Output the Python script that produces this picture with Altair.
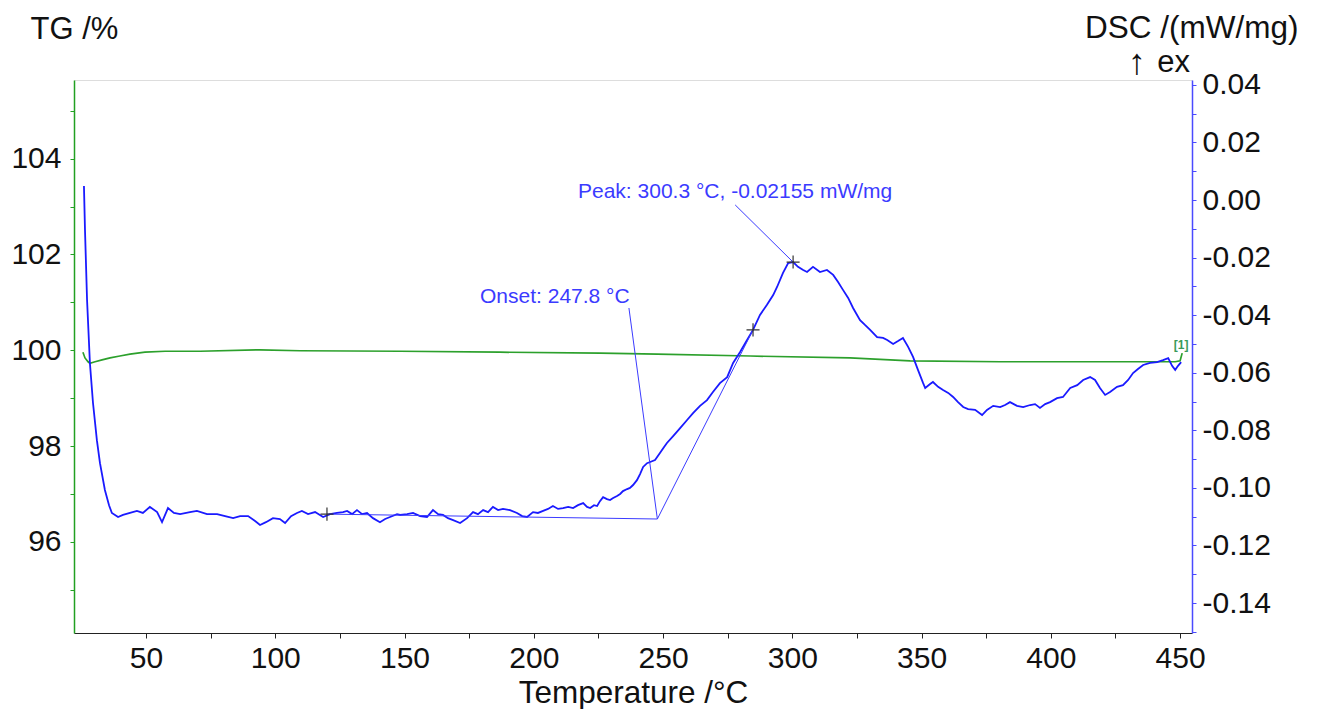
import altair as alt
import pandas as pd

# ---------------- data ----------------
dsc_temp = [26.0, 26.4, 27.2, 28.3, 29.5, 31.0, 32.2, 34.1, 35.7, 36.8,
            39.2, 41.1, 43.8, 46.5, 48.8, 51.5, 54.3, 56.2, 58.5, 60.8,
            63.2, 67.0, 69.7, 73.6, 77.5, 80.6, 83.7, 86.4, 89.5, 92.2,
            94.1, 96.4, 99.1, 101.8, 103.8, 106.1, 108.4, 110.3, 112.7, 115.4,
            118.5, 121.2, 123.9, 126.2, 127.8, 129.7, 131.6, 133.6, 135.5, 137.8,
            140.5, 142.5, 144.4, 147.1, 148.3, 151.0, 153.3, 156.0, 158.7, 161.0,
            163.0, 164.9, 166.8, 168.8, 171.5, 174.2, 176.5, 178.4, 180.4, 182.3,
            184.2, 186.2, 188.1, 190.8, 193.5, 195.5, 197.4, 199.7, 201.6, 203.6,
            205.5, 207.4, 209.4, 211.3, 213.3, 215.2, 217.1, 219.1, 220.6, 221.8,
            223.3, 224.5, 225.6, 226.8, 228.3, 229.5, 230.7, 232.2, 233.4, 234.5,
            236.1, 237.2, 238.4, 239.9, 241.1, 242.3, 243.8, 245.0, 246.9, 248.8,
            250.4, 251.5, 253.9, 256.6, 259.3, 261.6, 264.3, 267.0, 269.3, 272.0,
            274.8, 277.1, 279.8, 282.5, 284.8, 287.5, 290.2, 292.6, 294.1, 296.4,
            298.4, 300.3, 302.2, 304.2, 305.7, 308.0, 310.7, 313.4, 315.8, 317.7,
            319.6, 321.6, 323.5, 326.2, 328.1, 330.1, 332.8, 335.1, 336.7, 339.0,
            340.9, 342.8, 344.8, 346.7, 348.6, 350.6, 351.4, 353.3, 354.4, 356.4,
            358.3, 360.3, 362.2, 364.1, 366.1, 368.0, 370.7, 373.4, 375.3, 377.7,
            380.4, 382.3, 384.2, 386.9, 389.3, 392.0, 393.9, 395.8, 397.8, 399.7,
            402.4, 404.7, 407.5, 410.2, 412.5, 415.2, 417.1, 419.0, 421.0, 422.9,
            425.6, 427.9, 429.9, 431.8, 433.7, 435.7, 438.4, 441.1, 443.4, 445.4,
            446.9, 448.1, 449.2, 450.4]
dsc_value = [0.0049, -0.0104, -0.0347, -0.0566, -0.0705, -0.0834, -0.0914, -0.1007, -0.1060, -0.1087,
             -0.1101, -0.1094, -0.1087, -0.1080, -0.1087, -0.1066, -0.1084, -0.1119, -0.1070, -0.1087,
             -0.1091, -0.1084, -0.1080, -0.1091, -0.1091, -0.1098, -0.1105, -0.1098, -0.1098, -0.1115,
             -0.1129, -0.1119, -0.1105, -0.1108, -0.1122, -0.1098, -0.1087, -0.1080, -0.1091, -0.1084,
             -0.1101, -0.1091, -0.1087, -0.1084, -0.1080, -0.1091, -0.1077, -0.1091, -0.1087, -0.1105,
             -0.1119, -0.1108, -0.1101, -0.1091, -0.1094, -0.1091, -0.1087, -0.1098, -0.1101, -0.1077,
             -0.1091, -0.1094, -0.1105, -0.1112, -0.1122, -0.1105, -0.1084, -0.1091, -0.1077, -0.1084,
             -0.1066, -0.1077, -0.1073, -0.1077, -0.1087, -0.1098, -0.1101, -0.1084, -0.1087, -0.1080,
             -0.1073, -0.1063, -0.1073, -0.1070, -0.1066, -0.1070, -0.1060, -0.1053, -0.1066, -0.1070,
             -0.1060, -0.1063, -0.1046, -0.1032, -0.1039, -0.1042, -0.1035, -0.1028, -0.1021, -0.1011,
             -0.1004, -0.1000, -0.0990, -0.0973, -0.0952, -0.0927, -0.0914, -0.0910, -0.0903, -0.0879,
             -0.0858, -0.0844, -0.0820, -0.0792, -0.0764, -0.0740, -0.0715, -0.0695, -0.0667, -0.0636,
             -0.0615, -0.0566, -0.0528, -0.0486, -0.0451, -0.0399, -0.0364, -0.0330, -0.0302, -0.0253,
             -0.0219, -0.02155, -0.0232, -0.0243, -0.0250, -0.0232, -0.0250, -0.0243, -0.0260, -0.0285,
             -0.0312, -0.0340, -0.0375, -0.0417, -0.0434, -0.0451, -0.0476, -0.0479, -0.0486, -0.0500,
             -0.0490, -0.0479, -0.0510, -0.0545, -0.0590, -0.0636, -0.0653, -0.0639, -0.0632, -0.0649,
             -0.0660, -0.0670, -0.0684, -0.0702, -0.0719, -0.0726, -0.0729, -0.0747, -0.0729, -0.0715,
             -0.0719, -0.0712, -0.0702, -0.0715, -0.0719, -0.0712, -0.0709, -0.0722, -0.0709, -0.0702,
             -0.0688, -0.0684, -0.0653, -0.0643, -0.0625, -0.0615, -0.0625, -0.0653, -0.0677, -0.0667,
             -0.0649, -0.0643, -0.0625, -0.0601, -0.0587, -0.0573, -0.0566, -0.0563, -0.0556, -0.0549,
             -0.0576, -0.0590, -0.0576, -0.0563]

tg_temp = [25.6, 26.4, 27.6, 28.3, 30.3, 33.0, 36.1, 39.9, 43.8, 49.6, 57.4, 70.9,
           94.1, 109.6, 148.3, 186.9, 225.6, 247.7, 283.7, 322.3, 345.6, 380.4,
           419.0, 448.1, 450.0, 450.8]
tg_value = [99.96, 99.84, 99.76, 99.73, 99.76, 99.80, 99.84, 99.88, 99.92, 99.96, 99.98, 99.98,
            100.01, 99.99, 99.98, 99.96, 99.94, 99.92, 99.88, 99.84, 99.78, 99.76,
            99.76, 99.76, 99.78, 99.94]

# construction lines of the onset / peak evaluation (DSC axis)
seg_t1 = [120.0, 247.8, 236.8, 277.9]
seg_v1 = [-0.1091, -0.1108, -0.0375, -0.0017]
seg_t2 = [247.8, 284.8, 247.8, 300.3]
seg_v2 = [-0.1108, -0.0451, -0.1108, -0.02155]

mark_t = [120.0, 284.8, 300.3]
mark_v = [-0.1091, -0.0451, -0.02155]

label_text = ["Peak: 300.3 °C, -0.02155 mW/mg", "Onset: 247.8 °C"]
label_t = [217.1, 179.2]
label_v = [0.0028, -0.0337]

tg_tag_text = ["[1]"]
tg_tag_t = [450.4]
tg_tag_v = [100.11]

x_ticks = [50, 75, 100, 125, 150, 175, 200, 225, 250, 275, 300, 325, 350, 375, 400, 425, 450]
tg_ticks = [95, 96, 97, 98, 99, 100, 101, 102, 103, 104, 105]
dsc_ticks = [-0.15, -0.14, -0.13, -0.12, -0.11, -0.10, -0.09, -0.08, -0.07, -0.06, -0.05,
             -0.04, -0.03, -0.02, -0.01, 0.0, 0.01, 0.02, 0.03, 0.04]

# ---------------- chart ----------------
FONT = "Liberation Sans"
GREEN = "#2ca02c"
AXGREEN = "#22a022"
BLUE = "#1a1aff"
AXBLUE = "#4a4aff"
ANNO = "#3b3bff"

dsc_df = pd.DataFrame({"T": dsc_temp, "DSC": dsc_value})
tg_df = pd.DataFrame({"T": tg_temp, "TG": tg_value})
seg_df = pd.DataFrame({"t1": seg_t1, "v1": seg_v1, "t2": seg_t2, "v2": seg_v2})
mark_df = pd.DataFrame({"T": mark_t, "DSC": mark_v})
label_df = pd.DataFrame({"T": label_t, "DSC": label_v, "txt": label_text})
tag_df = pd.DataFrame({"T": tg_tag_t, "TG": tg_tag_v, "txt": tg_tag_text})

x_scale = alt.Scale(domain=[22.15, 454.6], nice=False, zero=False)
tg_scale = alt.Scale(domain=[94.1, 105.64], nice=False, zero=False)
dsc_scale = alt.Scale(domain=[-0.1504, 0.0417], nice=False, zero=False)

x_axis = alt.Axis(
    values=x_ticks, tickCount=40, format=".0f",
    labelExpr="datum.value % 50 == 0 ? datum.label : ''",
    title="Temperature /°C",
    grid=False, domainColor="#222222", tickColor="#222222", tickSize=5,
    labelFontSize=30, titleFontSize=31.5, labelPadding=5,
    labelFlush=False, labelOverlap=False,
    titleY=69, titleBaseline="alphabetic",
    labelColor="#111111", titleColor="#111111", titleFontWeight="normal",
)
tg_axis = alt.Axis(
    orient="left", values=tg_ticks, tickCount=40, format=".0f",
    labelExpr="datum.value % 2 == 0 ? datum.label : ''",
    title="TG /%", titleAngle=0, titleX=-44, titleY=-42,
    titleAlign="left", titleBaseline="alphabetic",
    grid=False, domainColor=AXGREEN, tickColor=AXGREEN, tickSize=4, domainWidth=1.5,
    labelFontSize=30, titleFontSize=31, labelPadding=9, labelOverlap=False, labelFlush=False,
    labelColor="#111111", titleColor="#111111", titleFontWeight="normal",
)
dsc_axis = alt.Axis(
    orient="right", values=dsc_ticks, tickCount=40,
    labelExpr="abs(round(datum.value * 100)) % 2 == 0 ? ((datum.value < -0.0001 ? '-' : '') + format(abs(datum.value), '.2f')) : ''",
    title="DSC /(mW/mg)", titleAngle=0, titleX=106, titleY=-43,
    titleAlign="right", titleBaseline="alphabetic",
    grid=False, domainColor=AXBLUE, tickColor=AXBLUE, tickSize=4, domainWidth=1.5,
    labelFontSize=30, titleFontSize=31.5, labelPadding=6, labelOverlap=False, labelFlush=False,
    labelColor="#111111", titleColor="#111111", titleFontWeight="normal",
)

tg_line = alt.Chart(tg_df).mark_line(color=GREEN, strokeWidth=1.7).encode(
    x=alt.X("T:Q", scale=x_scale, axis=x_axis),
    y=alt.Y("TG:Q", scale=tg_scale, axis=tg_axis),
    order="T:Q",
)
tg_tag = alt.Chart(tag_df).mark_text(
    color="#3a9a5a", fontSize=12, fontWeight="bold", font=FONT
).encode(x="T:Q", y="TG:Q", text="txt:N")
tg_layer = alt.layer(tg_line, tg_tag)

dsc_line = alt.Chart(dsc_df).mark_line(color=BLUE, strokeWidth=1.8).encode(
    x=alt.X("T:Q", scale=x_scale),
    y=alt.Y("DSC:Q", scale=dsc_scale, axis=dsc_axis),
    order="T:Q",
)
segs = alt.Chart(seg_df).mark_rule(color=ANNO, strokeWidth=1).encode(
    x="t1:Q", y="v1:Q", x2="t2:Q", y2="v2:Q"
)
marks = alt.Chart(mark_df).mark_point(
    shape="M-1,0L1,0M0,-1L0,1", filled=False, color="#333333", strokeWidth=1.2,
    size=170, opacity=1
).encode(x="T:Q", y="DSC:Q")
labels = alt.Chart(label_df).mark_text(
    color=ANNO, fontSize=21, align="left", baseline="middle", font=FONT
).encode(x="T:Q", y="DSC:Q", text="txt:N")
ex_text = alt.Chart(pd.DataFrame({"txt": ["ex"]})).mark_text(
    color="#111111", fontSize=31, align="right", baseline="alphabetic", font=FONT
).encode(x=alt.value(1116), y=alt.value(-8), text="txt:N")
arrow_text = alt.Chart(pd.DataFrame({"txt": ["↑"]})).mark_text(
    color="#111111", fontSize=36, align="center", baseline="alphabetic", font=FONT
).encode(x=alt.value(1063), y=alt.value(-6), text="txt:N")

dsc_layer = alt.layer(dsc_line, segs, marks, labels, ex_text, arrow_text)

chart = alt.layer(tg_layer, dsc_layer).resolve_scale(y="independent").properties(
    width=1118, height=553,
    padding={"left": 66, "top": 72, "right": 117, "bottom": 80},
    autosize=alt.AutoSizeParams(type="none"),
    background="white",
).configure_view(strokeWidth=0).configure(font=FONT)

chart.save("out.html", embed_options={"renderer": "svg", "actions": False})
